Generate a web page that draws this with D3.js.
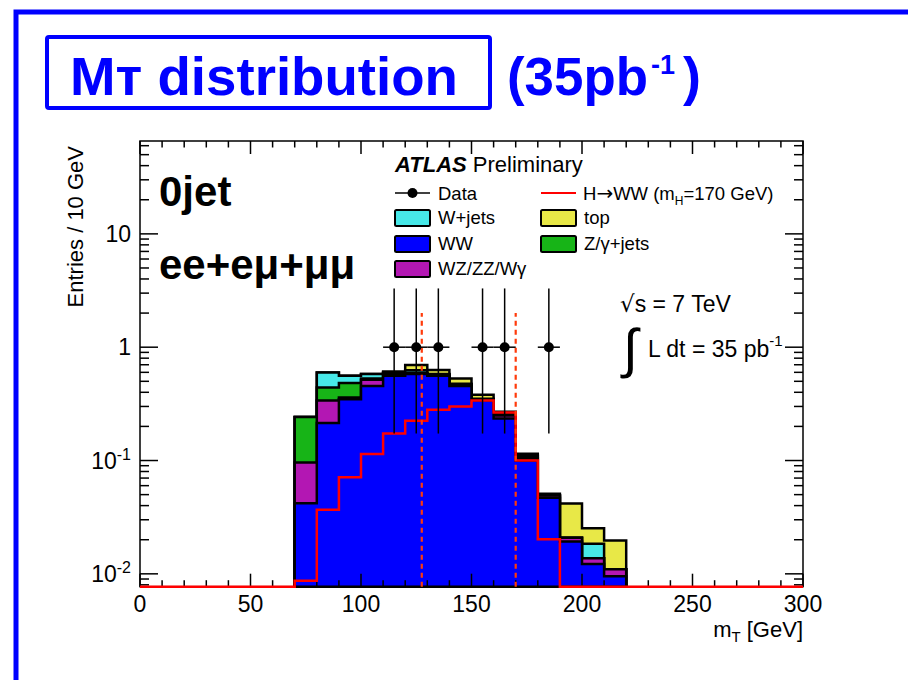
<!DOCTYPE html>
<html><head><meta charset="utf-8">
<script src="https://cdn.jsdelivr.net/npm/d3@7/dist/d3.min.js"></script>
<style>
body{margin:0;background:#fff}
text{font-family:"Liberation Sans",Arial,Helvetica,sans-serif}
</style>
</head><body>
<svg id="c" width="908" height="680"></svg>
<script>
// ---- data: mT histogram, 10 GeV bins (lower edges) ----
const binLow   = [70, 80, 90, 100, 110, 120, 130, 140, 150, 160, 170, 180, 190, 200, 210];
const ww       = [0.042, 0.214, 0.348, 0.455, 0.56, 0.58, 0.56, 0.455, 0.34, 0.235, 0.10, 0.047, 0.0193, 0.0122, 0.0095];
const wzzz     = [0.054, 0.125, 0.012, 0.06, 0.02, 0.01, 0.01, 0.01, 0.007, 0.015, 0.006, 0.002, 0.0015, 0.0015, 0.0015];
const zjets    = [0.1455, 0.102, 0.122, 0.015, 0.01, 0.005, 0.005, 0.005, 0, 0.005, 0.003, 0, 0, 0, 0];
const wjets    = [0, 0.158, 0.077, 0.05, 0.01, 0.03, 0.005, 0.005, 0.003, 0.005, 0.002, 0, 0, 0.0047, 0];
const topQuark = [0, 0, 0, 0, 0.01, 0.07, 0.05, 0.055, 0.03, 0.01, 0.004, 0.002, 0.021, 0.0069, 0.0087];

const higgsLow = [70, 80, 90, 100, 110, 120, 130, 140, 150, 160, 170, 180];
const higgs    = [0.0087, 0.0367, 0.0713, 0.114, 0.173, 0.224, 0.28, 0.30, 0.339, 0.265, 0.10, 0.0202];

const dataX    = [115, 125, 135, 155, 165, 185];
const dataY    = [1, 1, 1, 1, 1, 1];
const dataLow  = [0.173, 0.173, 0.173, 0.173, 0.173, 0.173];
const dataHigh = [3.30, 3.30, 3.30, 3.30, 3.30, 3.30];

const cutX = [127.5, 170];
const cutTop = 2.0;

const xTicks = [0, 50, 100, 150, 200, 250, 300];
const yTicks = [0.01, 0.1, 1, 10];
const yTickLabels = [["10", "-2"], ["10", "-1"], ["1", ""], ["10", ""]];

const binWidth = 10;
const colors = {ww: "#0000ff", wz: "#b317b3", z: "#17b417", w: "#47e8e8", top: "#e8e847", h: "#ff0000", cut: "#ff3a0a"};

// ---- layout ----
const svg = d3.select("#c");
const X0 = 140, X1 = 803, Y0 = 586.7, Y1 = 141;
const yMin = 0.0077, yMax = 66;
const x = d3.scaleLinear().domain([0, 300]).range([X0, X1]);
const y = d3.scaleLog().domain([yMin, yMax]).range([Y0, Y1]);
const yc = v => y(Math.max(v, yMin));

// slide frame
svg.append("path").attr("d", "M16,680V12H908").attr("fill", "none").attr("stroke", "#0000ff").attr("stroke-width", 5);

// title
svg.append("rect").attr("x", 47).attr("y", 37).attr("width", 443).attr("height", 71).attr("rx", 2)
  .attr("fill", "none").attr("stroke", "#0000ff").attr("stroke-width", 4);
svg.append("text").attr("x", 70).attr("y", 95).attr("font-size", 54).attr("font-weight", "bold")
  .attr("fill", "#0000ff").attr("textLength", 388).attr("lengthAdjust", "spacingAndGlyphs").text("Mт distribution");
svg.append("text").attr("x", 507).attr("y", 95).attr("font-size", 54).attr("font-weight", "bold")
  .attr("fill", "#0000ff").attr("textLength", 141).attr("lengthAdjust", "spacingAndGlyphs").text("(35pb");
svg.append("text").attr("x", 651).attr("y", 74).attr("font-size", 27).attr("font-weight", "bold")
  .attr("fill", "#0000ff").text("-1");
svg.append("text").attr("x", 683).attr("y", 95).attr("font-size", 54).attr("font-weight", "bold")
  .attr("fill", "#0000ff").text(")");

// ---- stacked histogram ----
const layers = [
  {vals: ww, color: colors.ww},
  {vals: wzzz, color: colors.wz},
  {vals: zjets, color: colors.z},
  {vals: wjets, color: colors.w},
  {vals: topQuark, color: colors.top}
];
let cum = binLow.map(() => 0);
layers.forEach(l => { cum = cum.map((c, i) => c + l.vals[i]); l.cum = cum.slice(); });

function stepPoints(lows, vals, start, end) {
  const pts = [[x(start), Y0], [x(lows[0]), Y0]];
  lows.forEach((lo, i) => {
    pts.push([x(lo), yc(vals[i])]);
    pts.push([x(lo + binWidth), yc(vals[i])]);
  });
  pts.push([x(lows[lows.length - 1] + binWidth), Y0]);
  pts.push([x(end), Y0]);
  return pts;
}
const line = d3.line();
const stackG = svg.append("g");
layers.slice().reverse().forEach(l => {
  const pts = stepPoints(binLow, l.cum, binLow[0], binLow[binLow.length - 1] + binWidth);
  stackG.append("path").attr("d", line(pts) + "Z").attr("fill", l.color)
    .attr("stroke", "#000").attr("stroke-width", 2.5).attr("stroke-linejoin", "miter");
});

// ---- frame and ticks ----
const ax = svg.append("g").attr("stroke", "#000").attr("stroke-width", 1.5);
ax.append("rect").attr("x", X0).attr("y", Y1).attr("width", X1 - X0).attr("height", Y0 - Y1).attr("fill", "none");
for (let v = 0; v <= 300; v += 10) {
  const L = v % 50 === 0 ? 13 : 6.5;
  ax.append("line").attr("x1", x(v)).attr("x2", x(v)).attr("y1", Y0).attr("y2", Y0 - L);
  ax.append("line").attr("x1", x(v)).attr("x2", x(v)).attr("y1", Y1).attr("y2", Y1 + L);
}
const yMinor = [];
[0.001, 0.01, 0.1, 1, 10].forEach(d => { for (let k = 2; k <= 9; k++) { const v = d * k; if (v > yMin && v < yMax) yMinor.push(v); } });
yTicks.forEach(v => {
  ax.append("line").attr("x1", X0).attr("x2", X0 + 18).attr("y1", y(v)).attr("y2", y(v));
  ax.append("line").attr("x1", X1).attr("x2", X1 - 18).attr("y1", y(v)).attr("y2", y(v));
});
yMinor.forEach(v => {
  ax.append("line").attr("x1", X0).attr("x2", X0 + 9).attr("y1", y(v)).attr("y2", y(v));
  ax.append("line").attr("x1", X1).attr("x2", X1 - 9).attr("y1", y(v)).attr("y2", y(v));
});

// Higgs signal (zero bins run along the lower edge)
svg.append("path").attr("d", line(stepPoints(higgsLow, higgs, 0, 300)))
  .attr("fill", "none").attr("stroke", colors.h).attr("stroke-width", 2.5);

// cut lines
cutX.forEach(c => {
  svg.append("line").attr("x1", x(c)).attr("x2", x(c)).attr("y1", Y0).attr("y2", y(cutTop))
    .attr("stroke", colors.cut).attr("stroke-width", 2.2).attr("stroke-dasharray", "5,4");
});

// data points
const dg = svg.append("g").attr("stroke", "#000").attr("stroke-width", 1.5);
dataX.forEach((d, i) => {
  dg.append("line").attr("x1", x(d)).attr("x2", x(d)).attr("y1", y(dataLow[i])).attr("y2", y(dataHigh[i]));
  dg.append("line").attr("x1", x(d - binWidth / 2)).attr("x2", x(d + binWidth / 2)).attr("y1", y(dataY[i])).attr("y2", y(dataY[i]));
  dg.append("circle").attr("cx", x(d)).attr("cy", y(dataY[i])).attr("r", 5).attr("fill", "#000").attr("stroke", "none");
});

// tick labels
xTicks.forEach(v => {
  svg.append("text").attr("x", x(v)).attr("y", 612).attr("text-anchor", "middle").attr("font-size", 23).text(v);
});
yTicks.forEach((v, i) => {
  const [base, sup] = yTickLabels[i];
  const t = svg.append("text").attr("x", 131).attr("y", y(v) + 8).attr("text-anchor", "end").attr("font-size", 23);
  t.append("tspan").text(base);
  if (sup) t.append("tspan").attr("dy", -9).attr("font-size", 16).text(sup);
});

// axis titles
svg.append("text").attr("transform", "translate(83,146) rotate(-90)").attr("text-anchor", "end")
  .attr("font-size", 22).text("Entries / 10 GeV");
const xt = svg.append("text").attr("x", 803).attr("y", 637).attr("text-anchor", "end").attr("font-size", 22);
xt.append("tspan").text("m");
xt.append("tspan").attr("dy", 5).attr("font-size", 15).text("T");
xt.append("tspan").attr("dy", -5).text(" [GeV]");

// channel labels
svg.append("text").attr("x", 159).attr("y", 206).attr("font-size", 42).attr("font-weight", "bold").text("0jet");
svg.append("text").attr("x", 159).attr("y", 279).attr("font-size", 42).attr("font-weight", "bold").text("ee+eμ+μμ");

// ---- legend ----
const lg = svg.append("g");
const atl = lg.append("text").attr("x", 395).attr("y", 172).attr("font-size", 22);
atl.append("tspan").attr("font-weight", "bold").attr("font-style", "italic").text("ATLAS");
atl.append("tspan").text(" Preliminary");

lg.append("line").attr("x1", 395).attr("x2", 430).attr("y1", 193).attr("y2", 193).attr("stroke", "#000").attr("stroke-width", 1.5);
lg.append("circle").attr("cx", 412.5).attr("cy", 193).attr("r", 5).attr("fill", "#000");
lg.append("text").attr("x", 438).attr("y", 200).attr("font-size", 18.5).text("Data");

lg.append("line").attr("x1", 541).attr("x2", 576).attr("y1", 193).attr("y2", 193).attr("stroke", colors.h).attr("stroke-width", 2);
const ht = lg.append("text").attr("x", 583).attr("y", 200).attr("font-size", 18.5);
ht.append("tspan").text("H");
ht.append("tspan").attr("font-family", "DejaVu Sans").attr("font-size", 20).text("→");
ht.append("tspan").text("WW (m");
ht.append("tspan").attr("dy", 5).attr("font-size", 12).text("H");
ht.append("tspan").attr("dy", -5).text("=170 GeV)");

const boxes = [
  {x: 395, y: 210, color: colors.w, label: "W+jets"},
  {x: 541, y: 210, color: colors.top, label: "top"},
  {x: 395, y: 236, color: colors.ww, label: "WW"},
  {x: 541, y: 236, color: colors.z, label: "Z/γ+jets"},
  {x: 395, y: 261, color: colors.wz, label: "WZ/ZZ/Wγ"}
];
boxes.forEach(b => {
  lg.append("rect").attr("x", b.x).attr("y", b.y).attr("width", 35).attr("height", 16).attr("rx", 1.5)
    .attr("fill", b.color).attr("stroke", "#000").attr("stroke-width", 2);
  lg.append("text").attr("x", b.x + 43).attr("y", b.y + 14).attr("font-size", 18.5).text(b.label);
});

// energy and luminosity
const rs = svg.append("text").attr("x", 620).attr("y", 312).attr("font-size", 23);
rs.append("tspan").attr("font-family", "DejaVu Sans").text("√");
rs.append("tspan").text("s = 7 TeV");
svg.append("text").attr("x", 623).attr("y", 367).attr("font-size", 54).attr("font-family", "DejaVu Sans").text("∫");
const lum = svg.append("text").attr("x", 648).attr("y", 357).attr("font-size", 23);
lum.append("tspan").text("L dt = 35 pb");
lum.append("tspan").attr("dy", -11).attr("font-size", 15).text("-1");
</script>
</body></html>
